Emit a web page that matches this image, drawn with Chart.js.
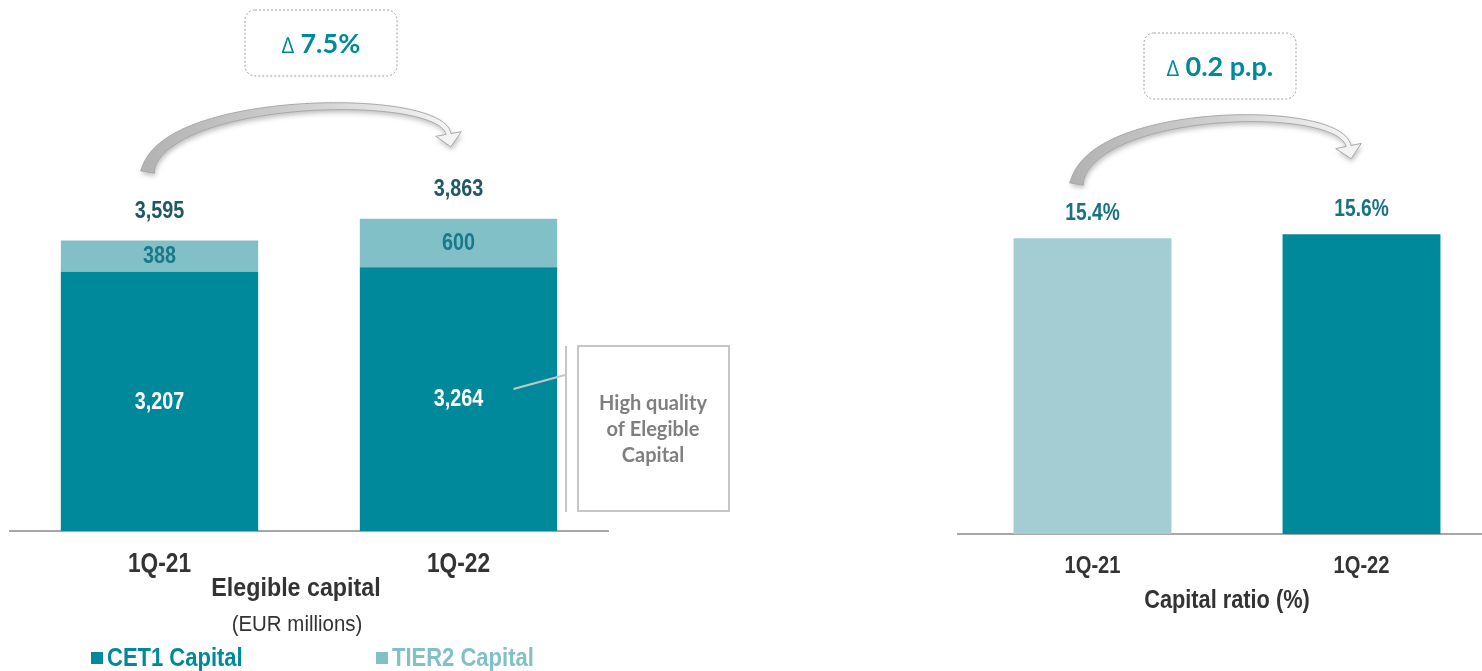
<!DOCTYPE html>
<html>
<head>
<meta charset="utf-8">
<title>Elegible capital and capital ratio</title>
<script src="https://cdn.jsdelivr.net/npm/chart.js@4.4.1/dist/chart.umd.min.js"></script>
<style>
  html, body { margin: 0; padding: 0; background: #ffffff; overflow: hidden; width: 1482px; height: 671px; }
  #capWrap { position: absolute; left: 0; top: 0; width: 760px; height: 671px; }
  #ratioWrap { position: absolute; left: 940px; top: 0; width: 560px; height: 671px; }
</style>
</head>
<body>
<div id="capWrap"><canvas id="capChart" width="760" height="671"></canvas></div>
<div id="ratioWrap"><canvas id="ratioChart" width="560" height="671"></canvas></div>
<script>
// ---- data ----
const quarters = ['1Q-21', '1Q-22'];
const cet1Capital = [3207, 3264];
const tier2Capital = [388, 600];
const totalCapital = [3595, 3863];
const capitalRatio = [15.4, 15.6];
const seriesNames = ['CET1 Capital', 'TIER2 Capital'];
const capitalChange = '7.5%';
const ratioChange = '0.2 p.p.';
const capitalTitle = 'Elegible capital';
const capitalUnit = '(EUR millions)';
const ratioTitle = 'Capital ratio (%)';
const noteLines = ['High quality', 'of Elegible', 'Capital'];

// ---- styling ----
const TEAL = '#00899A';
const TEAL_LIGHT = '#82C0C8';
const TEAL_PALE = '#A3CDD3';
const SANS = "'Liberation Sans', Arial, sans-serif";
const HUMANIST = "Lato, 'Open Sans', sans-serif";
const AXIS_GREY = '#A6A6A6';

const fmt = v => v.toLocaleString('en-US');
const pct = v => v.toFixed(1) + '%';

// text squeezed horizontally to get a condensed face
function text(ctx, str, x, y, font, color, opts) {
  const o = Object.assign({ align: 'center', sx: 1, baseline: 'middle' }, opts || {});
  ctx.save();
  ctx.font = font;
  ctx.fillStyle = color;
  ctx.textAlign = o.align;
  ctx.textBaseline = o.baseline;
  ctx.translate(x, y);
  ctx.scale(o.sx, 1);
  ctx.fillText(str, 0, 0);
  ctx.restore();
}

// tapered, shaded curved arrow following a cubic bezier
function drawCurvedArrow(ctx, p0, p1, p2, p3, w0, w1, headLen, headW) {
  const N = 90, L = [], R = [];
  const bz = (t, a, b, c, d) => {
    const u = 1 - t;
    return u*u*u*a + 3*u*u*t*b + 3*u*t*t*c + t*t*t*d;
  };
  const dz = (t, a, b, c, d) => {
    const u = 1 - t;
    return 3*u*u*(b - a) + 6*u*t*(c - b) + 3*t*t*(d - c);
  };
  for (let i = 0; i <= N; i++) {
    const t = i / N;
    const x = bz(t, p0[0], p1[0], p2[0], p3[0]);
    const y = bz(t, p0[1], p1[1], p2[1], p3[1]);
    let tx = dz(t, p0[0], p1[0], p2[0], p3[0]);
    let ty = dz(t, p0[1], p1[1], p2[1], p3[1]);
    const n = Math.hypot(tx, ty) || 1; tx /= n; ty /= n;
    const w = (w0 + (w1 - w0) * Math.pow(t, 0.45)) / 2;
    L.push([x - ty * w, y + tx * w]);
    R.push([x + ty * w, y - tx * w]);
  }
  let dx = p3[0] - p2[0], dy = p3[1] - p2[1];
  const dn = Math.hypot(dx, dy); dx /= dn; dy /= dn;
  const tip = [p3[0] + dx * headLen, p3[1] + dy * headLen];
  const hl = [p3[0] - dy * headW / 2, p3[1] + dx * headW / 2];
  const hr = [p3[0] + dy * headW / 2, p3[1] - dx * headW / 2];

  ctx.save();
  ctx.beginPath();
  ctx.moveTo(L[0][0], L[0][1]);
  for (const p of L) ctx.lineTo(p[0], p[1]);
  ctx.lineTo(hl[0], hl[1]);
  ctx.lineTo(tip[0], tip[1]);
  ctx.lineTo(hr[0], hr[1]);
  for (let i = R.length - 1; i >= 0; i--) ctx.lineTo(R[i][0], R[i][1]);
  ctx.closePath();
  const g = ctx.createLinearGradient(p0[0], 0, tip[0], 0);
  g.addColorStop(0, '#B3B3B3');
  g.addColorStop(0.5, '#CFCFCF');
  g.addColorStop(1, '#F4F4F4');
  ctx.shadowColor = 'rgba(0,0,0,0.25)';
  ctx.shadowBlur = 5;
  ctx.shadowOffsetX = 1;
  ctx.shadowOffsetY = 3;
  ctx.fillStyle = g;
  ctx.fill();
  ctx.shadowColor = 'transparent';
  ctx.lineWidth = 1;
  ctx.strokeStyle = '#A8A8A8';
  ctx.stroke();
  ctx.restore();
}

// dashed rounded box holding a "∆ value" caption
function drawDeltaBox(ctx, cx, top, w, h, caption) {
  ctx.save();
  ctx.beginPath();
  ctx.roundRect(cx - w / 2, top, w, h, 10);
  ctx.fillStyle = '#ffffff';
  ctx.fill();
  ctx.setLineDash([2, 2]);
  ctx.lineWidth = 1;
  ctx.strokeStyle = '#9E9E9E';
  ctx.stroke();
  ctx.setLineDash([]);
  ctx.fillStyle = TEAL;
  ctx.textBaseline = 'alphabetic';
  ctx.font = `bold 27px ${HUMANIST}`;
  const tw = ctx.measureText(caption).width;
  ctx.font = `22px ${HUMANIST}`;
  const dw = ctx.measureText('\u2206').width + 6;
  const x0 = cx - (tw + dw) / 2;
  const base = top + h / 2 + 10;
  ctx.textAlign = 'left';
  ctx.fillText('\u2206', x0, base);
  ctx.font = `bold 27px ${HUMANIST}`;
  ctx.fillText(caption, x0 + dw, base);
  ctx.restore();
}

// category names under the axis, placed from the scale's own tick positions
function drawTicks(chart, size, sx, baseline) {
  const sc = chart.scales.x;
  chart.data.labels.forEach((lb, i) => {
    text(chart.ctx, lb, sc.getPixelForTick(i), baseline, `bold ${size}px ${SANS}`, '#333333',
      { sx, baseline: 'alphabetic' });
  });
}

// ---- elegible capital: stacked bars ----
const capitalDecor = {
  id: 'capitalDecor',
  afterDatasetsDraw(chart) {
    const ctx = chart.ctx;
    const base = chart.getDatasetMeta(0).data;
    const top = chart.getDatasetMeta(1).data;
    const lbl = `bold 23px ${SANS}`;
    base.forEach((bar, i) => {
      text(ctx, fmt(cet1Capital[i]), bar.x, (bar.y + bar.base) / 2 + 1, lbl, '#ffffff', { sx: 0.86 });
      const t = top[i];
      text(ctx, fmt(tier2Capital[i]), t.x, (t.y + t.base) / 2 + 1, lbl, '#17798A', { sx: 0.86 });
      text(ctx, fmt(totalCapital[i]), t.x, t.y - 29, lbl, '#1E5866', { sx: 0.86 });
    });
    drawTicks(chart, 27, 0.84, 572);

    // arrow and change box above the bars
    const x0 = top[0].x, x1 = top[1].x;
    drawCurvedArrow(ctx, [x0 - 12, 172], [x0 + 1, 95], [x1 - 18, 90], [x1 - 10, 134], 14, 5, 13, 26);
    drawDeltaBox(ctx, 321, 10, 152, 66, capitalChange);

    // call-out for the CET1 share
    ctx.save();
    ctx.strokeStyle = '#C6C6C6';
    ctx.lineWidth = 2;
    ctx.beginPath();
    ctx.moveTo(base[1].x + 55, 389);
    ctx.lineTo(565, 375);
    ctx.stroke();
    ctx.beginPath();
    ctx.moveTo(566, 346);
    ctx.lineTo(566, 512);
    ctx.stroke();
    ctx.strokeRect(578, 346, 151, 165);
    ctx.restore();
    noteLines.forEach((ln, k) => text(ctx, ln, 653, 404 + k * 26, `bold 20px ${HUMANIST}`, '#7F7F7F'));

    // titles and legend under the axis
    text(ctx, capitalTitle, 296, 589, `bold 25px ${SANS}`, '#333333', { sx: 0.93 });
    text(ctx, capitalUnit, 297, 625, `22px ${SANS}`, '#333333', { sx: 0.93 });
    const legendX = [91, 376];
    const legendC = [TEAL, TEAL_LIGHT];
    seriesNames.forEach((nm, k) => {
      ctx.fillStyle = legendC[k];
      ctx.fillRect(legendX[k], 652, 12, 12);
      text(ctx, nm, legendX[k] + 16, 659, `bold 25px ${SANS}`, legendC[k], { align: 'left', sx: 0.88 });
    });
  }
};

new Chart(document.getElementById('capChart'), {
  type: 'bar',
  data: {
    labels: quarters,
    datasets: [
      { label: seriesNames[0], data: cet1Capital, backgroundColor: TEAL },
      { label: seriesNames[1], data: tier2Capital, backgroundColor: TEAL_LIGHT }
    ]
  },
  options: {
    responsive: false,
    animation: false,
    events: [],
    layout: { padding: { left: 10, right: 152, top: 0, bottom: 0 } },
    datasets: { bar: { categoryPercentage: 1, barPercentage: 0.66 } },
    plugins: { legend: { display: false }, tooltip: { enabled: false } },
    scales: {
      x: {
        stacked: true,
        grid: { display: false, drawTicks: false },
        border: { display: true, color: AXIS_GREY, width: 2 },
        ticks: { display: false },
        afterFit: s => { s.height = 140; }
      },
      y: { stacked: true, display: false, min: 0, max: 6570 }
    }
  },
  plugins: [capitalDecor]
});

// ---- capital ratio: simple bars ----
const ratioDecor = {
  id: 'ratioDecor',
  afterDatasetsDraw(chart) {
    const ctx = chart.ctx;
    const bars = chart.getDatasetMeta(0).data;
    bars.forEach((bar, i) => {
      text(ctx, pct(capitalRatio[i]), bar.x, bar.y - 25, `bold 24px ${SANS}`, '#177382', { sx: 0.8 });
    });
    drawTicks(chart, 24, 0.84, 573);
    const x0 = bars[0].x, x1 = bars[1].x;
    drawCurvedArrow(ctx, [x0 - 16, 184], [x0 - 3, 107], [x1 - 22, 102], [x1 - 13, 146], 14, 5, 13, 26);
    drawDeltaBox(ctx, 280, 33, 152, 66, ratioChange);
    text(ctx, ratioTitle, 287, 601, `bold 25px ${SANS}`, '#333333', { sx: 0.87 });
  }
};

new Chart(document.getElementById('ratioChart'), {
  type: 'bar',
  data: {
    labels: quarters,
    datasets: [
      { label: ratioTitle, data: capitalRatio, backgroundColor: [TEAL_PALE, TEAL] }
    ]
  },
  options: {
    responsive: false,
    animation: false,
    events: [],
    layout: { padding: { left: 18, right: 4, top: 0, bottom: 0 } },
    datasets: { bar: { categoryPercentage: 1, barPercentage: 0.587 } },
    plugins: { legend: { display: false }, tooltip: { enabled: false } },
    scales: {
      x: {
        grid: { display: false, drawTicks: false },
        border: { display: true, color: AXIS_GREY, width: 2 },
        ticks: { display: false },
        afterFit: s => { s.height = 137; }
      },
      y: { display: false, min: 0, max: 27.8 }
    }
  },
  plugins: [ratioDecor]
});
</script>
</body>
</html>
